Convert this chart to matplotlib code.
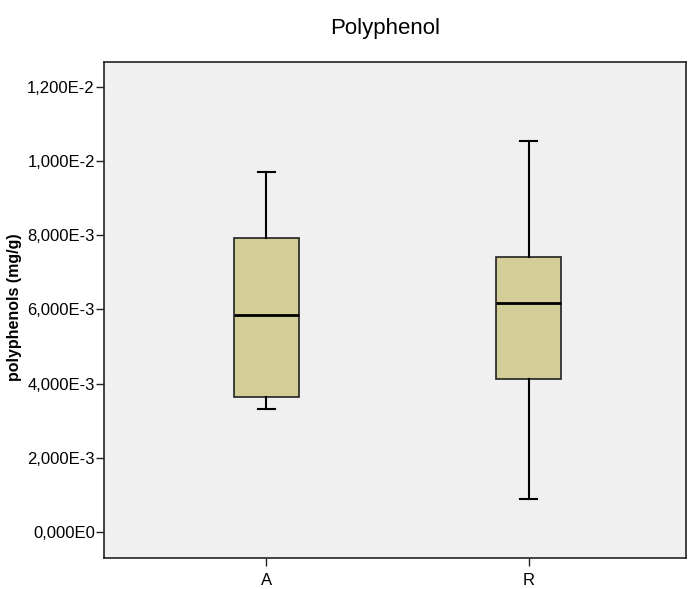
import matplotlib.pyplot as plt

plt.rcParams['font.family'] = ['Liberation Sans', 'DejaVu Sans']

groups = ["A", "R"]
whisker_low = [3.32e-3, 0.89e-3]
q1 = [3.64e-3, 4.12e-3]
medians = [5.85e-3, 6.17e-3]
q3 = [7.92e-3, 7.41e-3]
whisker_high = [9.70e-3, 10.54e-3]

y_ticks = [0, 2e-3, 4e-3, 6e-3, 8e-3, 10e-3, 12e-3]
y_tick_labels = ["0,000E0", "2,000E-3", "4,000E-3", "6,000E-3",
                 "8,000E-3", "1,000E-2", "1,200E-2"]

stats = []
for i, g in enumerate(groups):
    stats.append({
        "label": g,
        "whislo": whisker_low[i],
        "q1": q1[i],
        "med": medians[i],
        "q3": q3[i],
        "whishi": whisker_high[i],
        "fliers": [],
    })

fig = plt.figure(figsize=(6.88, 5.89), dpi=100)
ax = fig.add_axes([0.151, 0.0526, 0.846, 0.842])
ax.set_facecolor("#F0F0F0")

ax.bxp(
    stats,
    positions=[1, 2],
    widths=0.25,
    patch_artist=True,
    showfliers=False,
    boxprops=dict(facecolor="#D3CE97", edgecolor="#222222", linewidth=1.2),
    medianprops=dict(color="black", linewidth=2),
    whiskerprops=dict(color="black", linewidth=1.5),
    capprops=dict(color="black", linewidth=1.5),
    capwidths=0.065,
)

ax.set_xlim(0.38, 2.6)
ax.set_ylim(-0.70e-3, 12.67e-3)
ax.set_yticks(y_ticks)
ax.set_yticklabels(y_tick_labels, fontsize=12)
ax.set_xticks([1, 2])
ax.set_xticklabels(groups, fontsize=12)
ax.tick_params(axis="both", direction="out", length=6, width=1, color="#222222")
ax.tick_params(axis="x", pad=5)
ax.tick_params(axis="y", pad=0.5)

for s in ax.spines.values():
    s.set_color("#222222")
    s.set_linewidth(1.2)

ax.set_ylabel("polyphenols (mg/g)", fontsize=11.5, fontweight="bold")
ax.yaxis.set_label_coords(-0.14, 0.505)
fig.text(0.56, 0.952, "Polyphenol", ha="center", va="center", fontsize=16)

fig.savefig("out.png", dpi=100)
